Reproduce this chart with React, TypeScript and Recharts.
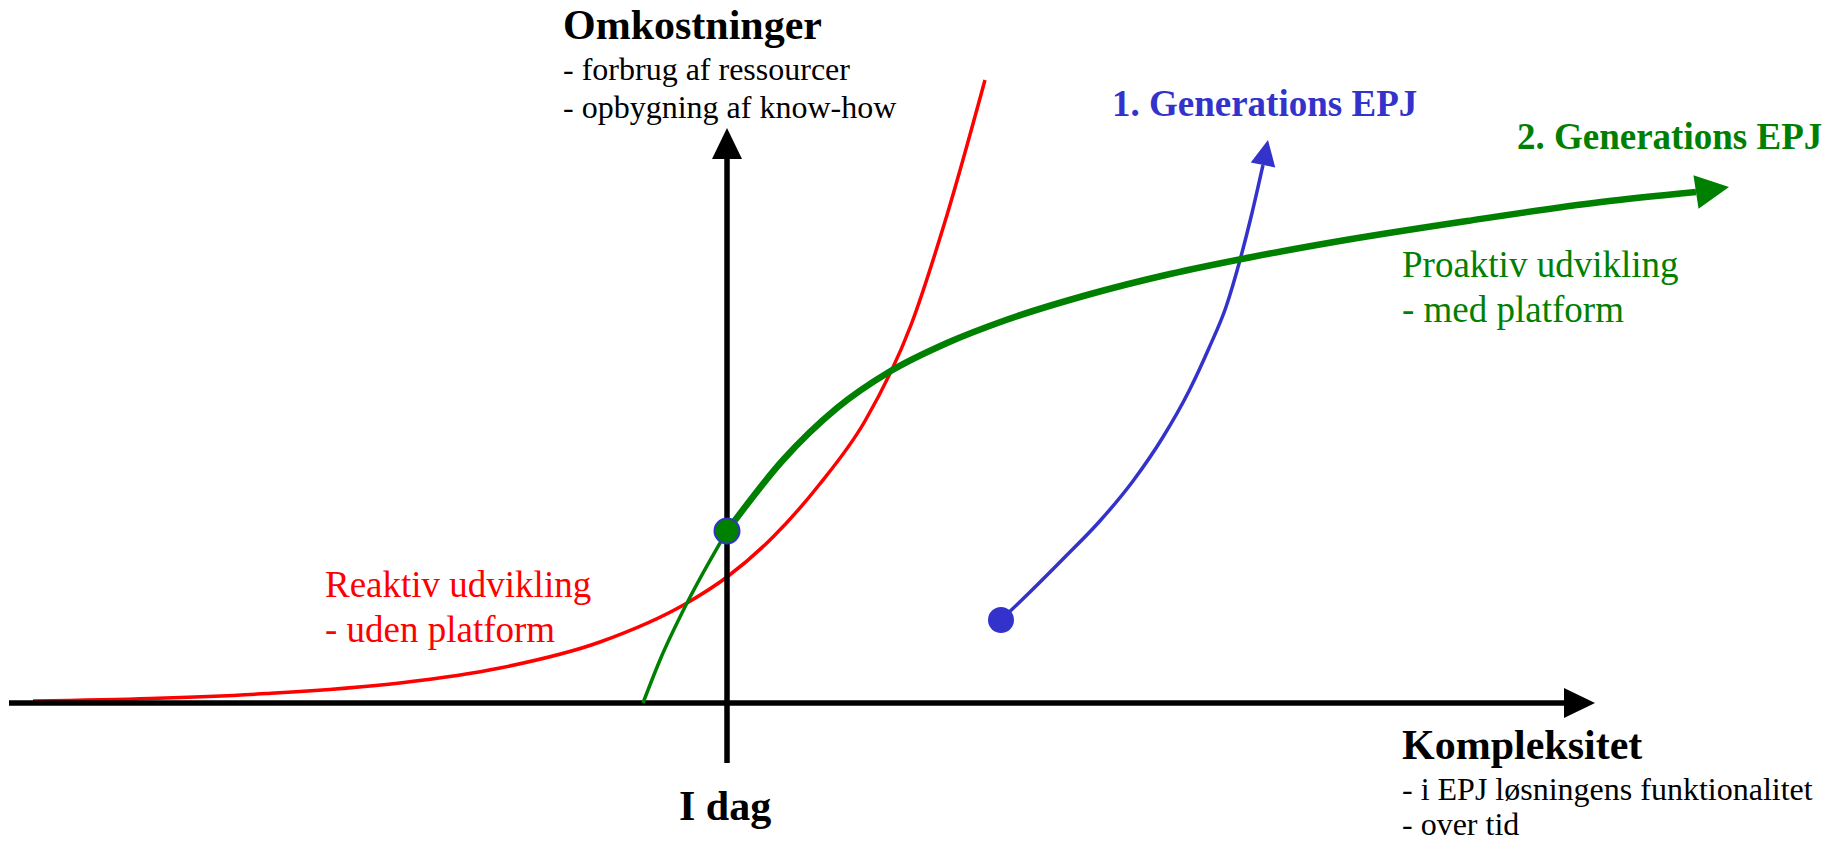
import React from 'react';
import { LineChart, Line, XAxis, YAxis } from 'recharts';

type Pt = { x: number; y: number };

// units: 1 = 10px, origin where the two axes cross
const xAxisLine: Pt[] = [{ x: -71.8, y: 0 }, { x: 83.7, y: 0 }];
const xAxisHead: Pt[] = [{ x: 83.7, y: 0 }, { x: 86.8, y: 0 }];
const yAxisLine: Pt[] = [{ x: 0, y: -6.0 }, { x: 0, y: 54.4 }];
const yAxisHead: Pt[] = [{ x: 0, y: 54.4 }, { x: 0, y: 57.5 }];

const reaktiv: Pt[] = [
  { x: -69.4, y: 0.2 }, { x: -57.7, y: 0.45 }, { x: -46.0, y: 0.95 }, { x: -32.7, y: 2.0 },
  { x: -22.7, y: 3.5 }, { x: -12.7, y: 6.1 }, { x: -4.0, y: 10.0 }, { x: 0, y: 12.6 },
  { x: 4.6, y: 16.6 }, { x: 9.2, y: 21.8 }, { x: 13.8, y: 28.2 }, { x: 18.4, y: 37.8 },
  { x: 22.0, y: 48.8 }, { x: 25.8, y: 62.3 },
];

const proaktivStart: Pt[] = [
  { x: -8.4, y: 0 }, { x: -6.7, y: 4.3 }, { x: -4.0, y: 10.0 }, { x: 0, y: 17.2 },
];

const proaktiv: Pt[] = [
  { x: 0, y: 17.2 }, { x: 5.6, y: 24.3 }, { x: 11.0, y: 29.5 }, { x: 16.2, y: 33.1 },
  { x: 22.0, y: 36.0 }, { x: 27.9, y: 38.3 }, { x: 36.0, y: 40.8 }, { x: 44.3, y: 42.9 },
  { x: 52.5, y: 44.6 }, { x: 60.7, y: 46.1 }, { x: 74.0, y: 48.2 }, { x: 87.4, y: 50.1 },
  { x: 96.9, y: 51.1 },
];
const proaktivHead: Pt[] = [{ x: 96.9, y: 51.1 }, { x: 100.2, y: 51.6 }];

const gen1: Pt[] = [
  { x: 27.4, y: 8.3 }, { x: 30.2, y: 11.0 }, { x: 33.7, y: 14.5 }, { x: 37.2, y: 18.1 },
  { x: 40.6, y: 22.2 }, { x: 43.6, y: 26.6 }, { x: 46.2, y: 31.2 }, { x: 48.2, y: 35.5 },
  { x: 49.9, y: 39.6 }, { x: 51.3, y: 44.3 }, { x: 52.5, y: 49.0 }, { x: 53.6, y: 53.8 },
];
const gen1Head: Pt[] = [{ x: 53.6, y: 53.8 }, { x: 54.1, y: 56.3 }];

const RED = '#FF0000';
const GREEN = '#008000';
const BLUE = '#3333CC';
const FONT = '"Liberation Serif", "Times New Roman", Times, serif';

const arrowHead = (color: string, half: number) => {
  let prev: { x: number; y: number } | null = null;
  return (props: any) => {
    const { cx, cy, index, points } = props;
    if (index === 0) {
      prev = { x: cx, y: cy };
      return <g key={`ah-${index}`} />;
    }
    const base = points && points[0] ? { x: points[0].x, y: points[0].y } : prev;
    if (!base) return <g key={`ah-${index}`} />;
    const dx = cx - base.x;
    const dy = cy - base.y;
    const len = Math.sqrt(dx * dx + dy * dy) || 1;
    const nx = -dy / len;
    const ny = dx / len;
    const pts = `${cx},${cy} ${base.x + nx * half},${base.y + ny * half} ${base.x - nx * half},${base.y - ny * half}`;
    return <polygon key={`ah-${index}`} points={pts} fill={color} stroke="none" />;
  };
};

const startDot = (r: number, fill: string, stroke?: string) => (props: any) => {
  const { cx, cy, index } = props;
  if (index !== 0) return <g key={`sd-${index}`} />;
  return (
    <circle key={`sd-${index}`} cx={cx} cy={cy} r={r} fill={fill}
      stroke={stroke || 'none'} strokeWidth={stroke ? 2 : 0} />
  );
};

const App: React.FC = () => {
  const W = 1834;
  const H = 844;
  return (
    <div style={{ position: 'absolute', left: 0, top: 0, width: W, height: H, background: '#fff' }}>
      <LineChart width={W} height={H} margin={{ top: 0, right: 0, bottom: 0, left: 0 }}>
        <XAxis type="number" dataKey="x" domain={[-72.7, 110.7]} hide allowDataOverflow />
        <YAxis type="number" dataKey="y" domain={[-14.1, 70.3]} hide allowDataOverflow />

        <Line data={reaktiv} dataKey="y" type="monotone" stroke={RED} strokeWidth={3.5}
          dot={false} activeDot={false} isAnimationActive={false} />
        <Line data={gen1} dataKey="y" type="monotone" stroke={BLUE} strokeWidth={3.5}
          dot={startDot(13, BLUE)} activeDot={false} isAnimationActive={false} />
        <Line data={gen1Head} dataKey="y" type="linear" stroke="none"
          dot={arrowHead(BLUE, 12.5)} activeDot={false} isAnimationActive={false} />

        <Line data={xAxisLine} dataKey="y" type="linear" stroke="#000" strokeWidth={5.5}
          dot={false} activeDot={false} isAnimationActive={false} />
        <Line data={xAxisHead} dataKey="y" type="linear" stroke="none"
          dot={arrowHead('#000', 15)} activeDot={false} isAnimationActive={false} />
        <Line data={yAxisLine} dataKey="y" type="linear" stroke="#000" strokeWidth={5.5}
          dot={false} activeDot={false} isAnimationActive={false} />
        <Line data={yAxisHead} dataKey="y" type="linear" stroke="none"
          dot={arrowHead('#000', 15)} activeDot={false} isAnimationActive={false} />

        <Line data={proaktivStart} dataKey="y" type="monotone" stroke={GREEN} strokeWidth={3.5}
          dot={false} activeDot={false} isAnimationActive={false} />
        <Line data={proaktiv} dataKey="y" type="monotone" stroke={GREEN} strokeWidth={6.5}
          dot={startDot(12.5, GREEN, BLUE)} activeDot={false} isAnimationActive={false} />
        <Line data={proaktivHead} dataKey="y" type="linear" stroke="none"
          dot={arrowHead(GREEN, 17)} activeDot={false} isAnimationActive={false} />
      </LineChart>

      <svg width={W} height={H} style={{ position: 'absolute', left: 0, top: 0, pointerEvents: 'none', fontFamily: FONT }}>
        <text x={563} y={39} fontSize={42} fontWeight="bold" fill="#000">Omkostninger</text>
        <text x={563} y={80} fontSize={32} fill="#000">- forbrug af ressourcer</text>
        <text x={563} y={118} fontSize={32} fill="#000">- opbygning af know-how</text>

        <text x={1112} y={116} fontSize={37} fontWeight="bold" fill={BLUE}>1. Generations EPJ</text>
        <text x={1517} y={149} fontSize={37} fontWeight="bold" fill={GREEN}>2. Generations EPJ</text>

        <text x={1402} y={277} fontSize={37} fill={GREEN}>Proaktiv udvikling</text>
        <text x={1402} y={322} fontSize={37} fill={GREEN}>- med platform</text>

        <text x={325} y={597} fontSize={37} fill={RED}>Reaktiv udvikling</text>
        <text x={325} y={642} fontSize={37} fill={RED}>- uden platform</text>

        <text x={1402} y={759} fontSize={42} fontWeight="bold" fill="#000">Kompleksitet</text>
        <text x={1402} y={800} fontSize={32} fill="#000">- i EPJ løsningens funktionalitet</text>
        <text x={1402} y={835} fontSize={32} fill="#000">- over tid</text>

        <text x={679} y={820} fontSize={42} fontWeight="bold" fill="#000">I dag</text>
      </svg>
    </div>
  );
};

export default App;
